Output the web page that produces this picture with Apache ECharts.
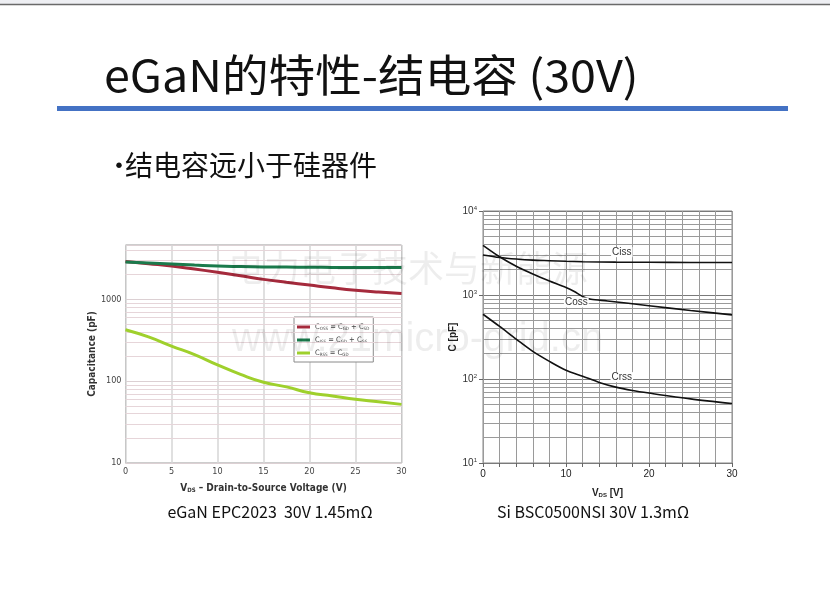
<!DOCTYPE html>
<html>
<head>
<meta charset="utf-8">
<script src="https://cdn.jsdelivr.net/npm/echarts@6/dist/echarts.min.js"></script>
<style>
  html, body { margin: 0; padding: 0; background: #fff; }
  #main { width: 830px; height: 599px; }
</style>
</head>
<body>
<div id="main"></div>
<script>
// eGaN EPC2023 (left chart), capacitance in pF vs V_DS
const ganVds = [0, 2.5, 5, 7.5, 10, 12.5, 15, 17.5, 20, 22.5, 25, 27.5, 30];
const ganCoss = [2900, 2720, 2550, 2340, 2135, 1940, 1750, 1610, 1490, 1380, 1290, 1225, 1175];
const ganCiss = [2860, 2780, 2700, 2620, 2550, 2510, 2480, 2470, 2460, 2450, 2440, 2435, 2435];
const ganCrss = [425, 347, 268, 211, 158, 121, 97, 85, 72, 66, 60, 56, 52];

// Si BSC0500NSI (right chart)
const siCissV = [0, 2, 4, 6, 8, 10, 12, 16, 20, 25, 30];
const siCiss = [3000, 2800, 2680, 2600, 2560, 2520, 2490, 2460, 2450, 2440, 2440];
const siCossV = [0, 2, 4, 6, 8, 10, 11, 12, 13, 15, 20, 25, 30];
const siCoss = [3900, 2850, 2200, 1780, 1470, 1230, 1100, 960, 890, 850, 745, 655, 580];
const siCrssV = [0, 2, 4, 6, 8, 10, 12, 14, 16, 18, 20, 25, 30];
const siCrss = [590, 422, 298, 213, 162, 127, 108, 91, 80, 73, 68, 58, 51];

// where the curve names sit on the right chart
const siLabelAt = { Ciss: 16, Coss: 11, Crss: 16 };

const ganNames = ['Coss', 'Ciss', 'Crss'];
const ganColors = ['#a52a3c', '#1b7a4c', '#9fd02c'];

// log paper lines: 2..9 of every decade
function logLines(lo, hi) {
  const out = [];
  for (let d = lo; d < hi; d *= 10) {
    for (let k = 2; k <= 9; k++) if (d * k < hi) out.push({ yAxis: d * k });
  }
  return out;
}

function pairs(xs, ys) {
  return xs.map((x, i) => [x, ys[i]]);
}

const narrow = "'Liberation Sans Narrow', 'DejaVu Sans Condensed', sans-serif";
const arial = "'Liberation Sans', Arial, sans-serif";
const cjk = "'Noto Sans CJK SC', 'Noto Sans', sans-serif";

const chart = echarts.init(document.getElementById('main'), null, { renderer: 'canvas' });

const ganSeries = [ganCoss, ganCiss, ganCrss].map((vals, i) => ({
  name: ganNames[i],
  type: 'line',
  xAxisIndex: 0,
  yAxisIndex: 0,
  smooth: true,
  showSymbol: false,
  z: 5,
  lineStyle: { color: ganColors[i], width: 3 },
  itemStyle: { color: ganColors[i] },
  data: pairs(ganVds, vals)
}));

function siSeries(name, xs, ys) {
  return {
    name: name,
    type: 'line',
    xAxisIndex: 1,
    yAxisIndex: 1,
    smooth: 0.3,
    showSymbol: true,
    symbolSize: 0,
    z: 5,
    lineStyle: { color: '#111', width: 1.6 },
    itemStyle: { color: '#111' },
    data: xs.map((x, i) => {
      const p = { value: [x, ys[i]] };
      if (x === siLabelAt[name]) {
        p.label = {
          show: true,
          formatter: name,
          position: name === 'Coss' ? 'bottom' : 'top',
          distance: name === 'Coss' ? 6 : 5,
          offset: name === 'Coss' ? [2, 0] : [6, 0],
          fontFamily: arial,
          fontSize: 10,
          color: '#333',
          backgroundColor: '#fff',
          padding: [0, 1]
        };
      }
      return p;
    })
  };
}

const legendText = {
  Coss: 'C{s|OSS} = C{s|GD} + C{s|SD}',
  Ciss: 'C{s|ISS} = C{s|GD} + C{s|GS}',
  Crss: 'C{s|RSS} = C{s|GD}'
};

chart.setOption({
  animation: false,
  backgroundColor: '#ffffff',
  grid: [
    { left: 125.5, top: 245, width: 276, height: 218, show: true, borderColor: '#9a9a9a', borderWidth: 1, backgroundColor: 'transparent' },
    { left: 483, top: 211, width: 249, height: 252, show: true, borderColor: '#888', borderWidth: 1, backgroundColor: 'transparent' }
  ],
  legend: {
    data: ganNames,
    orient: 'vertical',
    left: 294,
    top: 317,
    itemWidth: 13,
    itemHeight: 3,
    itemGap: 5,
    icon: 'rect',
    padding: [6, 4, 5, 3],
    backgroundColor: '#fff',
    borderColor: '#8a8a8a',
    borderWidth: 1,
    formatter: n => legendText[n],
    textStyle: {
      fontFamily: narrow,
      fontSize: 7.5,
      color: '#444',
      rich: { s: { fontSize: 4.5, verticalAlign: 'bottom', padding: [3, 0, 0, 0], fontFamily: narrow, color: '#444' } }
    }
  },
  xAxis: [
    {
      gridIndex: 0, type: 'value', min: 0, max: 30, interval: 5,
      name: 'V{s|DS} – Drain-to-Source Voltage (V)',
      nameLocation: 'middle', nameGap: 20,
      nameTextStyle: { fontFamily: narrow, fontSize: 10, fontWeight: 'bold', color: '#333',
        rich: { s: { fontSize: 6, fontWeight: 'bold', fontFamily: narrow, color: '#333', padding: [4, 0, 0, 0] } } },
      axisLine: { show: false },
      axisTick: { show: false },
      axisLabel: { fontFamily: narrow, fontSize: 9, color: '#444', margin: 4 },
      splitLine: { show: true, lineStyle: { color: '#d6d6d6', width: 1.5 } }
    },
    {
      gridIndex: 1, type: 'value', min: 0, max: 30, interval: 2,
      name: 'V{s|DS} [V]',
      nameLocation: 'middle', nameGap: 25,
      nameTextStyle: { fontFamily: arial, fontSize: 10, fontWeight: 'bold', color: '#222',
        rich: { s: { fontSize: 6, fontWeight: 'bold', fontFamily: arial, color: '#222', padding: [4, 0, 0, 0] } } },
      axisLine: { show: false },
      axisTick: { show: true, inside: false, length: 4, lineStyle: { color: '#666' } },
      axisLabel: { fontFamily: arial, fontSize: 10, color: '#222', margin: 6,
        formatter: v => (v % 10 === 0 ? String(v) : '') },
      splitLine: { show: true, lineStyle: { color: '#9a9a9a', width: 1 } }
    }
  ],
  yAxis: [
    {
      gridIndex: 0, type: 'log', logBase: 10, min: 10, max: 4600,
      name: 'Capacitance (pF)',
      nameLocation: 'middle', nameGap: 22,
      nameTextStyle: { fontFamily: narrow, fontSize: 10, fontWeight: 'bold', color: '#333' },
      axisLine: { show: false },
      axisTick: { show: false },
      axisLabel: { fontFamily: narrow, fontSize: 9, color: '#444', margin: 4, showMaxLabel: false,
        formatter: v => String(Math.round(v)) },
      splitLine: { show: true, lineStyle: { color: '#dcd0d3', width: 1 } }
    },
    {
      gridIndex: 1, type: 'log', logBase: 10, min: 10, max: 10000,
      name: 'C [pF]',
      nameLocation: 'middle', nameGap: 20,
      nameTextStyle: { fontFamily: arial, fontSize: 10, fontWeight: 'bold', color: '#222' },
      axisLine: { show: false },
      axisTick: { show: true, length: 4, lineStyle: { color: '#666' } },
      axisLabel: { fontFamily: arial, fontSize: 10, color: '#333', margin: 6,
        formatter: v => '10{sup|' + Math.round(Math.log10(v)) + '}',
        rich: { sup: { fontSize: 6, verticalAlign: 'top', padding: [0, 0, 6, 0], fontFamily: arial, color: '#333' } } },
      splitLine: { show: true, lineStyle: { color: '#7a7a7a', width: 1 } }
    }
  ],
  series: [
    ...ganSeries,
    {
      type: 'line', xAxisIndex: 0, yAxisIndex: 0, data: [], silent: true,
      markLine: { silent: true, symbol: ['none', 'none'], label: { show: false },
        lineStyle: { color: '#e6d5d9', type: 'solid', width: 1 }, data: logLines(10, 4600) }
    },
    siSeries('Ciss', siCissV, siCiss),
    siSeries('Coss', siCossV, siCoss),
    siSeries('Crss', siCrssV, siCrss),
    {
      type: 'line', xAxisIndex: 1, yAxisIndex: 1, data: [], silent: true,
      markLine: { silent: true, symbol: ['none', 'none'], label: { show: false },
        lineStyle: { color: '#9a9a9a', type: 'solid', width: 1 }, data: logLines(10, 10000) }
    }
  ],
  graphic: [
    { type: 'rect', shape: { x: 0, y: 0, width: 830, height: 4 }, style: { fill: '#eeeff3' } },
    { type: 'line', shape: { x1: 0, y1: 4.5, x2: 830, y2: 4.5 }, style: { stroke: '#6a6a6a', lineWidth: 1.5 } },
    { type: 'text', x: 104, y: 75, scaleX: 1.06, style: { text: 'eGaN的特性-结电容 (30V)', font: '44px ' + cjk, fill: '#111', textVerticalAlign: 'middle' } },
    { type: 'rect', shape: { x: 57, y: 106, width: 731, height: 5 }, style: { fill: '#4472c4' } },
    { type: 'text', x: 106, y: 165, style: { text: '•', font: '26px ' + cjk, fill: '#111', textVerticalAlign: 'middle' } },
    { type: 'text', x: 125, y: 165, style: { text: '结电容远小于硅器件', font: '28px ' + cjk, fill: '#111', textVerticalAlign: 'middle' } },
    { type: 'text', x: 270, y: 512, style: { text: 'eGaN EPC2023  30V 1.45mΩ', font: '16px ' + cjk, fill: '#111', textAlign: 'center', textVerticalAlign: 'middle' } },
    { type: 'text', x: 593, y: 512, style: { text: 'Si BSC0500NSI 30V 1.3mΩ', font: '16px ' + cjk, fill: '#111', textAlign: 'center', textVerticalAlign: 'middle' } },
    // faint watermark
    { type: 'text', x: 228, y: 268, z: 100, style: { text: '电力电子技术与新能源', font: '36px ' + cjk, fill: 'rgba(0,0,0,0.07)', textVerticalAlign: 'middle' } },
    { type: 'text', x: 232, y: 340, z: 100, style: { text: 'www.21micro-grid.cn', font: '40px ' + arial, fill: 'rgba(0,0,0,0.07)', textVerticalAlign: 'middle' } }
  ]
});
</script>
</body>
</html>
